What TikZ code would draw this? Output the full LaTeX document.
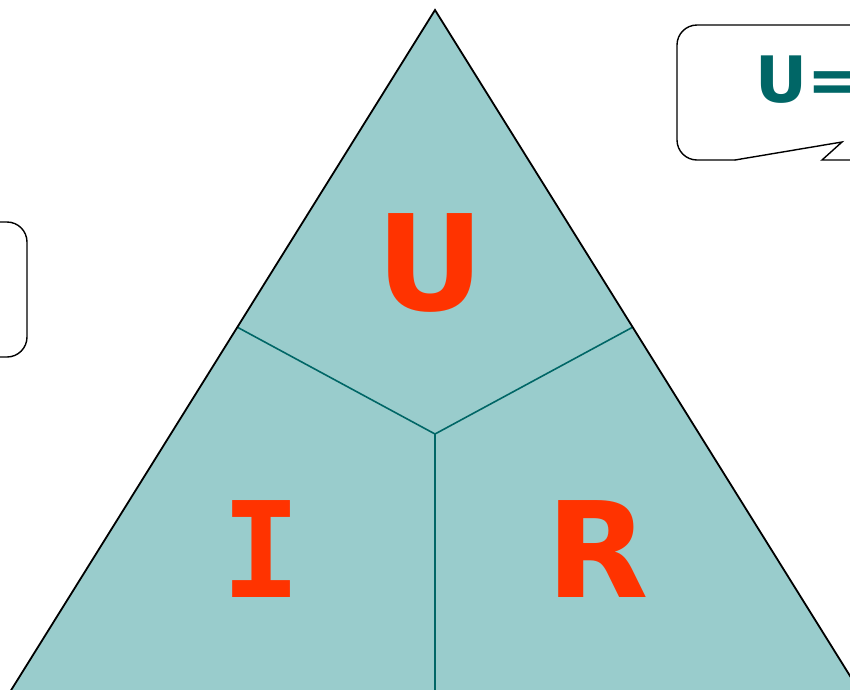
\documentclass[tikz,border=0pt]{standalone}
\usepackage{fontspec}
\setmainfont{DejaVu Sans}
\newfontfamily\monoI{DejaVu Sans Mono}
\definecolor{tfill}{HTML}{99CCCC}
\definecolor{tline}{HTML}{006666}
\definecolor{tletter}{HTML}{FF3300}
\begin{document}
\begin{tikzpicture}[x=1pt,y=-1pt,
  letter/.style={text=tletter,font=\fontsize{133}{140}\selectfont\bfseries,inner sep=0pt,anchor=base},
  divider/.style={draw=tline,line width=1.6pt},
  outline/.style={draw=black,line width=1.8pt},
  bubble/.style={draw=black,line width=1.4pt,line cap=round,line join=round}]
\useasboundingbox (0,0) rectangle (850,689);
\clip (0,0) rectangle (850,689);
% triangle
\coordinate (apex) at (435,10);
\coordinate (bl) at (-5,716);
\coordinate (br) at (875,716);
\coordinate (ml) at (237,327);
\coordinate (mr) at (633,327);
\coordinate (c) at (435,434);
\coordinate (cb) at (435,716);
\fill[tfill] (apex) -- (bl) -- (br) -- cycle;
\draw[divider] (ml) -- (c) -- (mr);
\draw[divider] (c) -- (cb);
\draw[outline,line join=miter] (bl) -- (apex) -- (br);
% letters
\node[letter] (U) at (430,310) {U};
\node[letter,font=\fontsize{133}{140}\selectfont\monoI\bfseries] (I) at (262,597) {I};
\node[letter] (R) at (598,597) {R};
% callout
\coordinate (cA) at (1000,25);
\coordinate (cB) at (677,25);
\coordinate (cC) at (677,160);
\coordinate (cD) at (735,160);
\coordinate (cE) at (842,142);
\coordinate (cF) at (822,160);
\coordinate (cG) at (1000,160);
\draw[bubble,rounded corners=20pt] (cA) -- (cB) -- (cC) -- (cD);
\draw[bubble,line join=miter] (cD) -- (cE) -- (cF) -- (cG);
\node[text=tline,font=\fontsize{64}{70}\selectfont\bfseries,inner sep=0pt,anchor=base west] (eq) at (755,102) {U=};
% left box
\draw[bubble,rounded corners=20pt] (-100,222) rectangle (27,357);
\end{tikzpicture}
\end{document}
